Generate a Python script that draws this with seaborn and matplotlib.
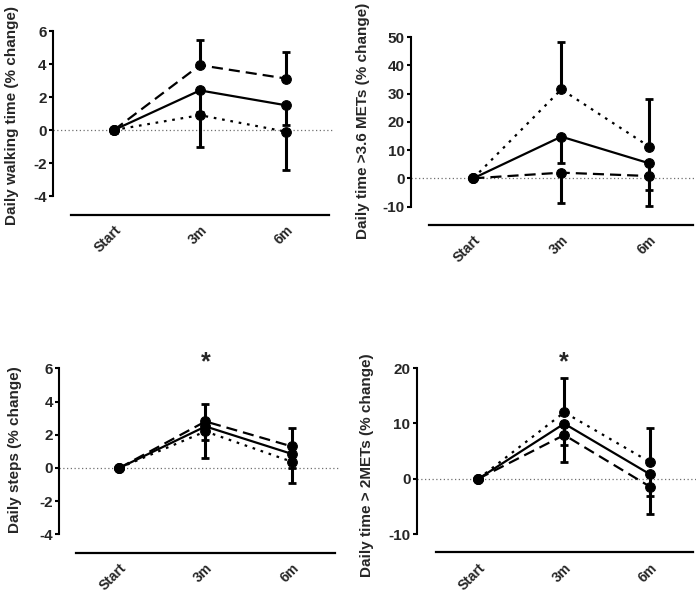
import numpy as np
import pandas as pd
import matplotlib
matplotlib.use("Agg")
import matplotlib.pyplot as plt
import seaborn as sns

sns.set_theme(style="ticks")
plt.rcParams['font.family'] = ['Liberation Sans', 'DejaVu Sans']
plt.rcParams['font.weight'] = 'bold'

# ---------------- data ----------------
times = ["Start", "3m", "6m"]
groups = ["Group A", "Group B", "Group C"]   # solid, dashed, dotted

# Panel 1: Daily walking time (% change)
walk_a = [0, 2.4, 1.5]
walk_b = [0, 3.93, 3.12]
walk_c = [0, 0.9, -0.1]
walk_a_lo = [0.2, 1.3, 1.2]
walk_b_hi = [0, 1.55, 1.58]
walk_c_lo = [0, 1.95, 2.3]

# Panel 2: Daily time >3.6 METs (% change)
met36_a = [0, 14.75, 5.3]
met36_b = [0, 2.0, 0.8]
met36_c = [0, 31.5, 11.2]
met36_a_lo = [0, 9.45, 9.5]
met36_b_lo = [0, 10.6, 10.6]
met36_c_hi = [0, 16.9, 16.8]

# Panel 3: Daily steps (% change)
steps_a = [0, 2.5, 0.85]
steps_b = [0, 2.8, 1.3]
steps_c = [0, 2.2, 0.38]
steps_a_lo = [0, 0.8, 0.83]
steps_b_hi = [0, 1.05, 1.1]
steps_c_lo = [0, 1.6, 1.28]

# Panel 4: Daily time > 2METs (% change)
met2_a = [0, 9.95, 0.8]
met2_b = [0, 7.9, -1.45]
met2_c = [0, 12.0, 3.0]
met2_a_lo = [0, 3.85, 3.9]
met2_b_lo = [0, 4.9, 4.85]
met2_c_hi = [0, 6.2, 6.2]

ylabels = ["Daily walking time (% change)", "Daily time >3.6 METs (% change)",
           "Daily steps (% change)", "Daily time > 2METs (% change)"]
yticks = [[-4, -2, 0, 2, 4, 6], [-10, 0, 10, 20, 30, 40, 50],
          [-4, -2, 0, 2, 4, 6], [-10, 0, 10, 20]]
signif = [False, False, True, True]

panels = [
    (walk_a, walk_b, walk_c, (walk_a_lo, "lo"), (walk_b_hi, "hi"), (walk_c_lo, "lo")),
    (met36_a, met36_b, met36_c, (met36_a_lo, "lo"), (met36_b_lo, "lo"), (met36_c_hi, "hi")),
    (steps_a, steps_b, steps_c, (steps_a_lo, "lo"), (steps_b_hi, "hi"), (steps_c_lo, "lo")),
    (met2_a, met2_b, met2_c, (met2_a_lo, "lo"), (met2_b_lo, "lo"), (met2_c_hi, "hi")),
]

# ---------------- layout (pixels) ----------------
W, H = 697, 593
fig = plt.figure(figsize=(W / 100, H / 100), dpi=100)

# left, right, top, bottom in px ; xlim ; ylim ; ylabel centre (px)
geo = [
    dict(l=53, r=333, t=25, b=215, xlim=(-0.709, 2.547), ylim=(-5.15, 6.364), lab=(12, 115)),
    dict(l=411, r=696, t=30, b=225, xlim=(-0.708, 2.53), ylim=(-16.54, 52.53), lab=(363, 121)),
    dict(l=59, r=339, t=350, b=552.7, xlim=(-0.70, 2.55), ylim=(-5.10, 7.10), lab=(15, 450)),
    dict(l=416.7, r=696, t=350, b=552.3, xlim=(-0.72, 2.536), ylim=(-13.3, 23.26), lab=(367, 465)),
]

dash_map = {"Group A": "", "Group B": (5, 2.7), "Group C": (1.2, 2.6)}
marker_map = {g: "o" for g in groups}

for i, (pan, g) in enumerate(zip(panels, geo)):
    a, b, c, ea, eb, ec = pan
    ax = fig.add_axes([g['l'] / W, 1 - g['b'] / H, (g['r'] - g['l']) / W, (g['b'] - g['t']) / H])
    df = pd.DataFrame({
        "time": times * 3,
        "value": list(a) + list(b) + list(c),
        "group": [groups[0]] * 3 + [groups[1]] * 3 + [groups[2]] * 3,
    })
    ax.axhline(0, color="#707070", lw=0.9, ls=(0, (1, 2)), zorder=0)
    sns.lineplot(data=df, x="time", y="value", style="group", dashes=dash_map,
                 markers=marker_map, color="black", markersize=7, linewidth=1.6,
                 markeredgecolor="black", legend=False, sort=False, ax=ax, zorder=3)
    for vals, (err, side) in zip((a, b, c), (ea, eb, ec)):
        zeros = [0] * len(err)
        yerr = [err, zeros] if side == "lo" else [zeros, err]
        ax.errorbar(x=np.arange(3), y=vals, yerr=yerr, fmt="none", ecolor="black",
                    elinewidth=2.2, capsize=3, capthick=2.0, zorder=2, clip_on=False)
    ax.set_xlim(*g['xlim'])
    ax.set_ylim(*g['ylim'])
    ax.set_yticks(yticks[i])
    ax.set_yticklabels([str(v) for v in yticks[i]], fontsize=11, fontweight="bold")
    ax.set_xticks(range(3))
    ax.set_xticklabels(times, fontsize=10, fontweight="bold", rotation=45,
                       ha="right", rotation_mode="anchor")
    ax.tick_params(axis="x", length=0, pad=6)
    ax.tick_params(axis="y", length=3, width=1.5, pad=1.5, color="black")
    for s in ("top", "right"):
        ax.spines[s].set_visible(False)
    ax.spines["left"].set_linewidth(1.5)
    ax.spines["bottom"].set_linewidth(1.6)
    ax.spines["left"].set_color("black")
    ax.spines["bottom"].set_color("black")
    ax.spines["left"].set_bounds(yticks[i][0], yticks[i][-1])
    ax.spines["bottom"].set_bounds(-0.5, 2.5)
    ax.set_xlabel("")
    ax.set_ylabel(ylabels[i], fontsize=11, fontweight="bold")
    lx, ly = g['lab']
    ax.yaxis.set_label_coords((lx - g['l']) / (g['r'] - g['l']), (g['b'] - ly) / (g['b'] - g['t']))
    ax.yaxis.label.set_va("center")
    ax.patch.set_alpha(0)
    if signif[i]:
        ast_frac = (g['b'] - 362) / (g['b'] - g['t'])
        ax.text(1, ast_frac, "*", transform=ax.get_xaxis_transform(), ha="center", va="center",
                fontsize=18, fontweight="bold", clip_on=False)

fig.savefig("out.png", dpi=100)
